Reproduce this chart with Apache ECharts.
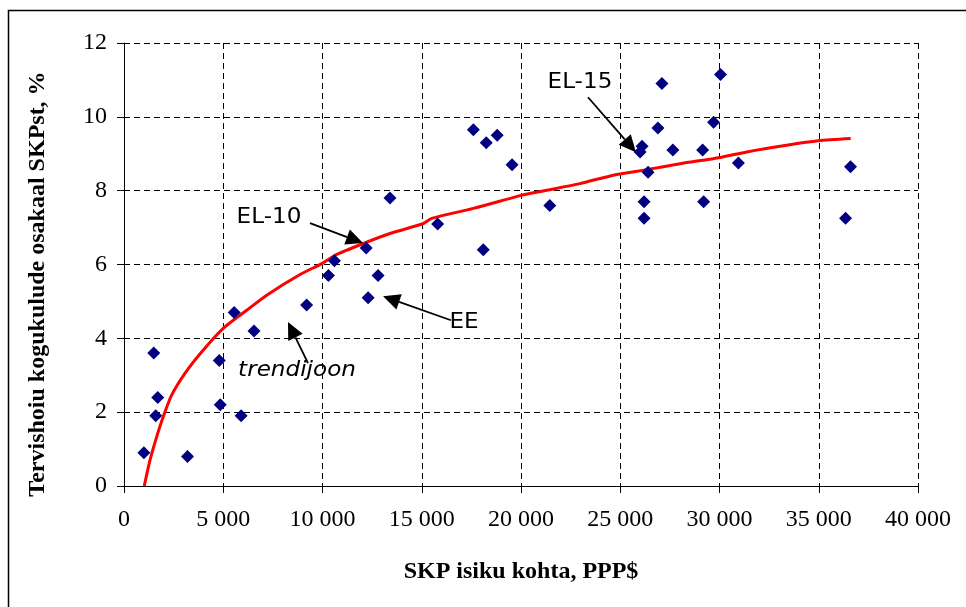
<!DOCTYPE html>
<html><head><meta charset="utf-8">
<script src="https://cdn.jsdelivr.net/npm/echarts@6/dist/echarts.min.js"></script>
<style>html,body{margin:0;padding:0;background:#fff}#c{width:966px;height:607px}</style>
</head><body><div id="c"></div>
<script>
// Scatter: GDP per capita (PPP$) vs health expenditure share of GDP (%)
const gdpPerCapita = [1000,1500,1600,1700,3200,4800,4850,5550,5900,6550,9200,10300,10600,12200,12300,12800,13400,15800,17600,18100,18250,18800,19550,21450,26000,26100,26200,26200,26400,26900,27100,27650,29150,29200,29700,30050,30950,36350,36600];
const healthShare  = [0.9,3.6,1.9,2.4,0.8,3.4,2.2,4.7,1.9,4.2,4.9,5.7,6.1,6.45,5.1,5.7,7.8,7.1,9.65,6.4,9.3,9.5,8.7,7.6,9.05,9.2,7.7,7.25,8.5,9.7,10.9,9.1,9.1,7.7,9.85,11.15,8.75,7.25,8.65];
// Trend line
const trendX = [1020,1310,1645,1980,2400,3070,3910,5000,6180,7190,8870,9990,10630,12060,13400,15080,15500,17600,20065,21300,22970,24650,26330,28010,30040,31370,33385,34980,36610];
const trendY = [0,0.70,1.33,1.88,2.46,3.05,3.63,4.27,4.76,5.17,5.73,6.03,6.25,6.57,6.84,7.11,7.25,7.52,7.88,8.01,8.19,8.42,8.57,8.73,8.90,9.05,9.23,9.35,9.41];
const xTickLabels = ['0','5 000','10 000','15 000','20 000','25 000','30 000','35 000','40 000'];
const yTickLabels = ['0','2','4','6','8','10','12'];
// Annotations: label text, label position, arrow tail, arrow tip (data coordinates)
const annotLabels = ['EL-15','EL-10','EE','trendijoon'];
const annotText   = [[22970,10.93],[7305,7.28],[17130,4.44],[8715,3.14]];
const annotTail   = [[23375,10.53],[9370,7.12],[16470,4.49],[9270,3.33]];
const annotTip    = [[25790,9.04],[12040,6.58],[13050,5.14],[8260,4.44]];
const annotItalic = [false,false,false,true];

const chart = echarts.init(document.getElementById('c'), null, {renderer:'canvas'});
const serif = '"Liberation Serif","Times New Roman",serif';
const sans = '"DejaVu Sans",Verdana,sans-serif';
const gridDash = {color:'#000', width:1, type:[6,4]};

chart.setOption({
  animation:false,
  backgroundColor:'#fff',
  grid:{left:124, right:48, top:43, bottom:121, containLabel:false},
  xAxis:{
    type:'value', min:0, max:40000, interval:5000,
    axisLine:{show:true, onZero:false, lineStyle:{color:'#000', width:1}},
    axisTick:{show:true, length:7, inside:false, lineStyle:{color:'#000'}},
    axisLabel:{color:'#000', fontFamily:serif, fontSize:24, margin:22,
      formatter:v => xTickLabels[Math.round(v/5000)]},
    splitLine:{show:true, lineStyle:gridDash},
    name:'SKP isiku kohta, PPP$', nameLocation:'middle', nameGap:74,
    nameTextStyle:{color:'#000', fontFamily:serif, fontSize:24, fontWeight:'bold'}
  },
  yAxis:{
    type:'value', min:0, max:12, interval:2,
    axisLine:{show:true, onZero:false, lineStyle:{color:'#000', width:1}},
    axisTick:{show:true, length:7, inside:false, lineStyle:{color:'#000'}},
    axisLabel:{color:'#000', fontFamily:serif, fontSize:24, margin:17,
      formatter:v => yTickLabels[Math.round(v/2)]},
    splitLine:{show:true, lineStyle:gridDash}
  },
  series:[
    {type:'line', data:trendX.map((x,i)=>[x,trendY[i]]), showSymbol:false, smooth:0.25,
     lineStyle:{color:'#ff0000', width:3}, z:2, silent:true},
    {type:'scatter', data:gdpPerCapita.map((x,i)=>[x,healthShare[i]]), symbol:'diamond', symbolSize:13,
     itemStyle:{color:'#000080', opacity:1}, z:3}
  ],
  graphic:[
    {type:'rect', shape:{x:8.5, y:10.5, width:1200, height:1200}, style:{fill:null, stroke:'#000', lineWidth:1.5}, silent:true, z:0},
    {type:'text', x:38, y:284, rotation:Math.PI/2,
     style:{text:'Tervishoiu kogukulude osakaal SKPst, %', font:'bold 24px '+serif, fill:'#000', align:'center', verticalAlign:'middle', textAlign:'center', textVerticalAlign:'middle'}}
  ]
});

function px(p){ return chart.convertToPixel({gridIndex:0}, p); }
const extra = [];
annotLabels.forEach((lab,i)=>{
  const t = px(annotText[i]);
  extra.push({type:'text', x:t[0], y:t[1], z:10, scaleX:1.1,
    style:{text:lab, font:(annotItalic[i]?'italic ':'')+'21px '+sans, fill:'#000', align:'center', verticalAlign:'middle', textAlign:'center', textVerticalAlign:'middle'}});
  const a = px(annotTail[i]), b = px(annotTip[i]);
  const dx=b[0]-a[0], dy=b[1]-a[1], L=Math.hypot(dx,dy), ux=dx/L, uy=dy/L;
  const hl=17, hw=8;
  const bx=b[0]-ux*hl, by=b[1]-uy*hl;
  extra.push({type:'line', z:10, shape:{x1:a[0], y1:a[1], x2:bx, y2:by}, style:{stroke:'#000', lineWidth:1.8}});
  extra.push({type:'polygon', z:10, shape:{points:[[b[0],b[1]],[bx-uy*hw,by+ux*hw],[bx+uy*hw,by-ux*hw]]}, style:{fill:'#000'}});
});
chart.setOption({graphic: chart.getOption().graphic[0].elements.concat(extra)});
</script></body></html>
